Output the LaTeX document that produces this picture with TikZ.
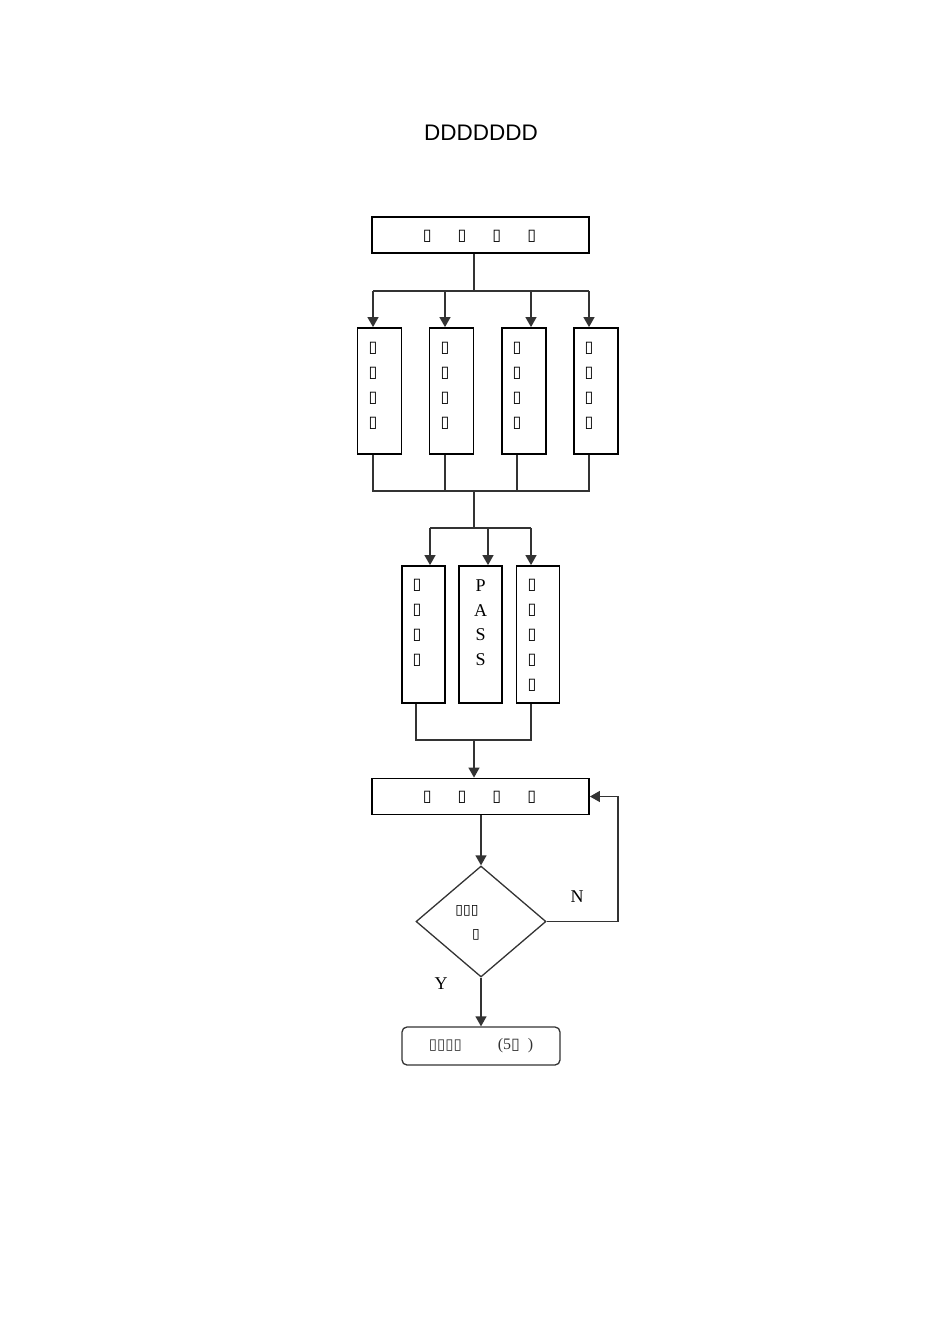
\documentclass[tikz,border=0pt]{standalone}
\usepackage{fontspec}
\setmainfont{Liberation Serif}
\newfontfamily\titlefont{Liberation Sans}
\newfontfamily\boxfont{DejaVu Sans}
\usetikzlibrary{arrows.meta,shapes.geometric}

\newcommand{\tf}{{\boxfont ▯}}

\begin{document}
\begin{tikzpicture}[x=1pt,y=-1pt,>={Triangle[width=11pt,length=10pt]},
 box/.style={draw,line width=1.8pt,inner sep=0pt},
 wide/.style={box,minimum width=217pt,minimum height=36pt},
 tall/.style={box,minimum width=44pt,minimum height=126pt},
 mid/.style={box,minimum width=43pt,minimum height=137pt},
 col/.style={align=center,inner sep=0pt,font=\fontsize{16}{25}\selectfont\boxfont},
 lat/.style={align=center,inner sep=0pt,font=\fontsize{18}{24.5}\selectfont},
 link/.style={line width=1.3pt,black!80},
 flow/.style={->,link}]
\useasboundingbox (0,0) rectangle (950,1344);
\node[font=\fontsize{22.5}{26}\selectfont\titlefont] (title) at (481,133) {DDDDDDD};
% top box
\node[wide] (top) at (480.5,235) {};
\node[col] (topt) at (479.5,236) {\tf\hspace{26pt}\tf\hspace{26pt}\tf\hspace{26pt}\tf};
% four tall boxes
\node[tall] (t1) at (379.5,391) {};
\node[tall] (t2) at (451.5,391) {};
\node[tall] (t3) at (524,391) {};
\node[tall] (t4) at (596,391) {};
\node[col] (t1t) at (373,385.5) {\tf\\\tf\\\tf\\\tf};
\node[col] (t2t) at (445,385.5) {\tf\\\tf\\\tf\\\tf};
\node[col] (t3t) at (517,385.5) {\tf\\\tf\\\tf\\\tf};
\node[col] (t4t) at (589,385.5) {\tf\\\tf\\\tf\\\tf};
% three boxes
\node[mid] (m1) at (423.5,634.5) {};
\node[mid] (m2) at (480.5,634.5) {};
\node[mid] (m3) at (538,634.5) {};
\node[col] (m1t) at (417,622.5) {\tf\\\tf\\\tf\\\tf};
\node[lat] (m2t) at (480.5,622.5) {P\\A\\S\\S};
\node[col] (m3t) at (532,635) {\tf\\\tf\\\tf\\\tf\\\tf};
% second box, check, end
\node[wide] (low) at (480.5,796.5) {};
\node[col] (lowt) at (479.5,797) {\tf\hspace{26pt}\tf\hspace{26pt}\tf\hspace{26pt}\tf};
\node[diamond,draw,link,inner sep=0pt,minimum width=130pt,minimum height=111pt] (chk) at (481,921.5) {};
\node[col,font=\fontsize{14}{16}\selectfont\boxfont] (chka) at (467,911) {\tf\tf\tf};
\node[col,font=\fontsize{14}{16}\selectfont\boxfont] (chkb) at (476,935) {\tf};
\node[draw,link,rounded corners=5pt,minimum width=158pt,minimum height=38pt,font=\fontsize{16}{16}\selectfont] (done) at (481,1046)
 {{\fontsize{15}{16}\selectfont\tf\tf\tf\tf}\hspace{36pt}(5\tf\hspace{8pt})};
\node[lat] (no) at (577,897) {N};
\node[lat] (yes) at (441,984) {Y};
% split to four
\coordinate (j1) at (474,291);
\coordinate (a1) at ([xshift=-6.5pt]t1.north);
\coordinate (a2) at ([xshift=-6.5pt]t2.north);
\coordinate (a3) at ([xshift=7pt]t3.north);
\coordinate (a4) at ([xshift=-7pt]t4.north);
\draw[link] (top.south -| j1) -- (j1);
\draw[link] (a1 |- j1) -- (a4 |- j1);
\draw[flow] (a1 |- j1) -- (a1);
\draw[flow] (a2 |- j1) -- (a2);
\draw[flow] (a3 |- j1) -- (a3);
\draw[flow] (a4 |- j1) -- (a4);
% join four
\coordinate (j2) at (474,491);
\coordinate (b1) at ([xshift=-6.5pt]t1.south);
\coordinate (b2) at ([xshift=-6.5pt]t2.south);
\coordinate (b3) at ([xshift=-7pt]t3.south);
\coordinate (b4) at ([xshift=-7pt]t4.south);
\draw[link] (b1) -- (b1 |- j2) -- (b4 |- j2) -- (b4);
\draw[link] (b2) -- (b2 |- j2);
\draw[link] (b3) -- (b3 |- j2);
% split to three
\coordinate (j3) at (474,528);
\coordinate (c1) at ([xshift=6.5pt]m1.north);
\coordinate (c2) at ([xshift=7.5pt]m2.north);
\coordinate (c3) at ([xshift=-7pt]m3.north);
\draw[link] (j2) -- (j3);
\draw[link] (c1 |- j3) -- (c3 |- j3);
\draw[flow] (c1 |- j3) -- (c1);
\draw[flow] (c2 |- j3) -- (c2);
\draw[flow] (c3 |- j3) -- (c3);
% join three
\coordinate (j4) at (474,740);
\coordinate (d1) at ([xshift=-7.5pt]m1.south);
\coordinate (d3) at ([xshift=-7pt]m3.south);
\draw[link] (d1) -- (d1 |- j4) -- (d3 |- j4) -- (d3);
\draw[flow] (j4) -- (j4 |- low.north);
% check loop
\coordinate (back) at (618,921.5);
\draw[flow] (chk.north |- low.south) -- (chk.north);
\draw[flow] (chk.east) -- (back) -- (back |- low.east) -- (low.east);
\draw[flow] (chk.south) -- (done.north);
\end{tikzpicture}
\end{document}
